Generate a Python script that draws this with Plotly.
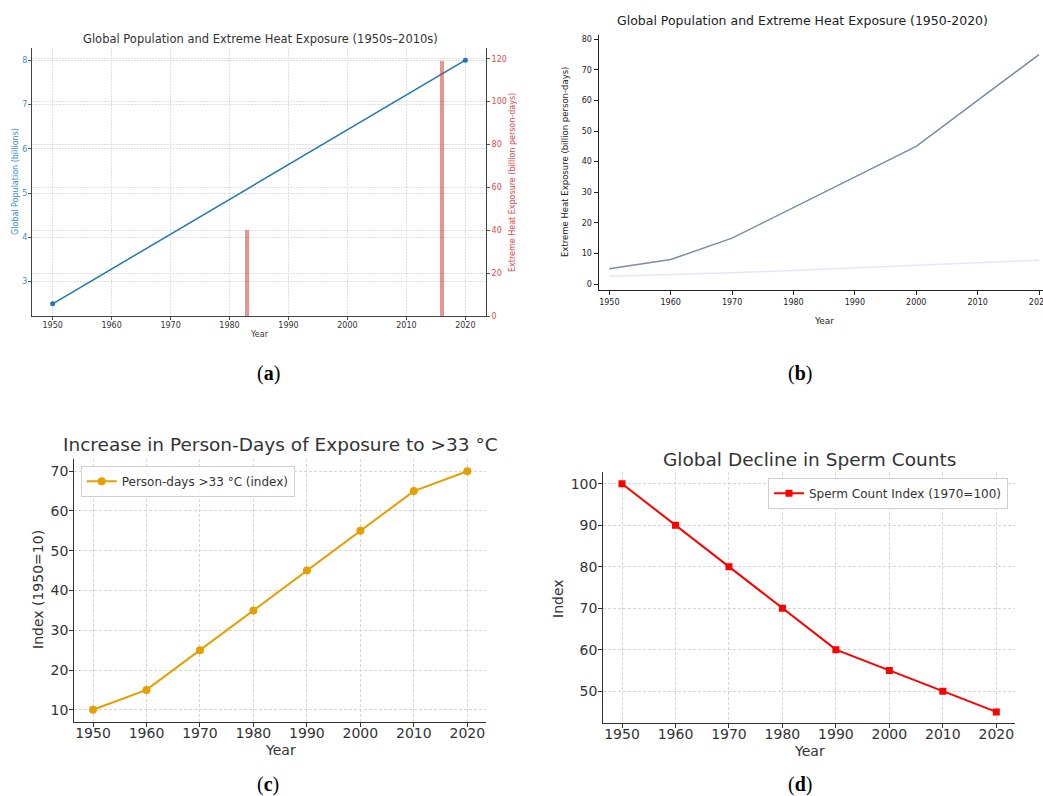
import plotly.graph_objects as go

W, H = 1043, 796

# ---------------- data ----------------
# (a)
a_years = [1950, 2020]
a_population = [2.5, 8.0]
a_bar_years = [1983, 2016]
a_bar_exposure = [40, 119]
# (b)
b_years = [1950, 1960, 1970, 1980, 1990, 2000, 2010, 2020]
b_exposure = [5, 8, 15, 25, 35, 45, 60, 75]
b_population = [2.5, 3.0, 3.7, 4.4, 5.3, 6.1, 6.9, 7.8]
# (c)
c_years = [1950, 1960, 1970, 1980, 1990, 2000, 2010, 2020]
c_index = [10, 15, 25, 35, 45, 55, 65, 70]
# (d)
d_years = [1950, 1960, 1970, 1980, 1990, 2000, 2010, 2020]
d_index = [100, 90, 80, 70, 60, 55, 50, 45]

year_ticks = [1950, 1960, 1970, 1980, 1990, 2000, 2010, 2020]


def px(x):
    return x / W


def py(y):
    return 1 - y / H


FONT = "DejaVu Sans"
fig = go.Figure()

# ---------------- traces ----------------
fig.add_trace(go.Bar(x=a_bar_years, y=a_bar_exposure, width=0.75,
                     marker=dict(color="rgba(214,39,40,0.5)", line=dict(width=0)),
                     xaxis="x", yaxis="y2", showlegend=False))
fig.add_trace(go.Scatter(x=a_years, y=a_population, mode="lines+markers",
                         line=dict(color="#1f77b4", width=1.5),
                         marker=dict(size=5, color="#1f77b4"),
                         xaxis="x", yaxis="y", showlegend=False))

fig.add_trace(go.Scatter(x=b_years, y=b_population, mode="lines",
                         line=dict(color="#e6e6fa", width=1.5),
                         xaxis="x2", yaxis="y3", showlegend=False))
fig.add_trace(go.Scatter(x=b_years, y=b_exposure, mode="lines",
                         line=dict(color="#7d8ba3", width=1.5),
                         xaxis="x2", yaxis="y3", showlegend=False))

fig.add_trace(go.Scatter(x=c_years, y=c_index, mode="lines+markers",
                         name="Person-days >33 °C (index)",
                         line=dict(color="#e69f00", width=2),
                         marker=dict(size=8, color="#e69f00", symbol="circle"),
                         xaxis="x3", yaxis="y4", legend="legend"))

fig.add_trace(go.Scatter(x=d_years, y=d_index, mode="lines+markers",
                         name="Sperm Count Index (1970=100)",
                         line=dict(color="#ff0000", width=2),
                         marker=dict(size=7, color="#ff0000", symbol="square"),
                         xaxis="x4", yaxis="y5", legend="legend2"))

# ---------------- axes ----------------
grid_a = dict(showgrid=True, gridcolor="#e0e0e0", griddash="2px,1px", gridwidth=1)
grid_cd = dict(showgrid=True, gridcolor="#d6d6d6", griddash="3px,2px", gridwidth=1)
common = dict(automargin=False, zeroline=False, ticklabeloverflow="allow")

layout = dict(
    width=W, height=H, margin=dict(l=0, r=0, t=0, b=0, autoexpand=False),
    paper_bgcolor="white", plot_bgcolor="rgba(0,0,0,0)",
    font=dict(family=FONT, color="#333333"),
    bargap=0,
    # (a)
    xaxis=dict(domain=[px(32), px(486)], range=[1946.5, 2023.5], anchor="y",
               tickvals=year_ticks, ticks="outside", ticklen=3, tickcolor="#555",
               tickfont=dict(size=8, color="#333"), showline=True, linecolor="#444",
               linewidth=1, ticklabelstandoff=-2, **common, **grid_a),
    yaxis=dict(domain=[py(316), py(48)], range=[2.225, 8.275], anchor="x",
               tickvals=[3, 4, 5, 6, 7, 8], ticks="outside", ticklen=3, tickcolor="#555",
               tickfont=dict(size=8, color="#3a8ccf"), showline=True, linecolor="#444",
               linewidth=1, ticklabelstandoff=-1, **common, **grid_a),
    yaxis2=dict(overlaying="y", side="right", anchor="x", range=[0, 125],
                tickvals=[0, 20, 40, 60, 80, 100, 120], ticks="outside", ticklen=3,
                tickcolor="#555", tickfont=dict(size=8, color="#e0474c"), showline=True,
                linecolor="#444", linewidth=1, **common, **grid_a),
    # (b)
    xaxis2=dict(domain=[px(598.7), 1.0], range=[1948.27, 2020.65], anchor="y3",
                tickvals=year_ticks, ticks="outside", ticklen=4, tickcolor="#222",
                tickfont=dict(size=8, color="#222"), showline=True, linecolor="#222",
                linewidth=1.3, showgrid=False, **common),
    yaxis3=dict(domain=[py(290), py(35)], range=[-1.96, 81.4], anchor="x2",
                tickvals=[0, 10, 20, 30, 40, 50, 60, 70, 80], ticks="outside", ticklen=4,
                tickcolor="#222", tickfont=dict(size=8, color="#222"), showline=True,
                linecolor="#222", linewidth=1.3, showgrid=False, **common),
    # (c)
    xaxis3=dict(domain=[px(74.3), px(486)], range=[1946.5, 2023.5], anchor="y4",
                tickvals=year_ticks, ticks="outside", ticklen=4, tickcolor="#333",
                tickfont=dict(size=14, color="#333"), showline=True, linecolor="#333",
                linewidth=1.2, ticklabelstandoff=-6, **common, **grid_cd),
    yaxis4=dict(domain=[py(721.7), py(459.3)], range=[7, 73], anchor="x3",
                tickvals=[10, 20, 30, 40, 50, 60, 70], ticks="outside", ticklen=4,
                tickcolor="#333", tickfont=dict(size=14, color="#333"), showline=True,
                linecolor="#333", linewidth=1.2, ticklabelstandoff=-2, **common, **grid_cd),
    # (d)
    xaxis4=dict(domain=[px(603.3), px(1015)], range=[1946.5, 2023.5], anchor="y5",
                tickvals=year_ticks, ticks="outside", ticklen=4, tickcolor="#333",
                tickfont=dict(size=14, color="#333"), showline=True, linecolor="#333",
                linewidth=1.2, ticklabelstandoff=-6, **common, **grid_cd),
    yaxis5=dict(domain=[py(723.3), py(472.3)], range=[42.25, 102.75], anchor="x4",
                tickvals=[50, 60, 70, 80, 90, 100], ticks="outside", ticklen=4,
                tickcolor="#333", tickfont=dict(size=14, color="#333"), showline=True,
                linecolor="#333", linewidth=1.2, ticklabelstandoff=-2, **common, **grid_cd),
    legend=dict(x=px(80.7), y=py(465.7), xanchor="left", yanchor="top",
                bgcolor="rgba(255,255,255,0.85)", bordercolor="#d0d0d0", borderwidth=1,
                font=dict(size=12, color="#333"), itemwidth=30,
                tracegroupgap=0),
    legend2=dict(x=px(1008), y=py(477.7), xanchor="right", yanchor="top",
                 bgcolor="rgba(255,255,255,0.85)", bordercolor="#d0d0d0", borderwidth=1,
                 font=dict(size=12, color="#333"), itemwidth=30),
)
fig.update_layout(**layout)


def text(x, y, s, size, color="#333333", angle=0, family=FONT):
    fig.add_annotation(x=px(x), y=py(y), xref="paper", yref="paper", text=s,
                       showarrow=False, textangle=angle, xanchor="center",
                       yanchor="middle", font=dict(size=size, color=color, family=family))


# (a) texts
text(260, 39, "Global Population and Extreme Heat Exposure (1950s–2010s)", 11.5)
text(259, 334, "Year", 8)
text(16, 182, "Global Population (billions)", 8, color="#3a8ccf", angle=-90)
text(512, 183, "Extreme Heat Exposure (billion person-days)", 8, color="#e0474c", angle=-90)
# (b) texts
text(802, 20, "Global Population and Extreme Heat Exposure (1950-2020)", 12.5, color="#222")
text(824, 321, "Year", 9, color="#222")
text(565, 162, "Extreme Heat Exposure (billion person-days)", 8.5, color="#222", angle=-90)
# (c) texts
text(280, 445, "Increase in Person-Days of Exposure to >33 °C", 18.5)
text(280, 750, "Year", 14)
text(38, 590, "Index (1950=10)", 14, angle=-90)
# (d) texts
text(809, 459, "Global Decline in Sperm Counts", 18.5)
text(809, 751, "Year", 14)
text(558, 599, "Index", 14, angle=-90)

# panel labels
SERIF = "Liberation Serif"
text(268, 373, "(<b>a</b>)", 20, color="#000", family=SERIF)
text(800, 373, "(<b>b</b>)", 20, color="#000", family=SERIF)
text(268, 784, "(<b>c</b>)", 20, color="#000", family=SERIF)
text(800, 784, "(<b>d</b>)", 20, color="#000", family=SERIF)

fig.write_html("out.html", config={"displayModeBar": False},
               post_script="document.body.style.margin='0';document.body.style.overflow='hidden';")
